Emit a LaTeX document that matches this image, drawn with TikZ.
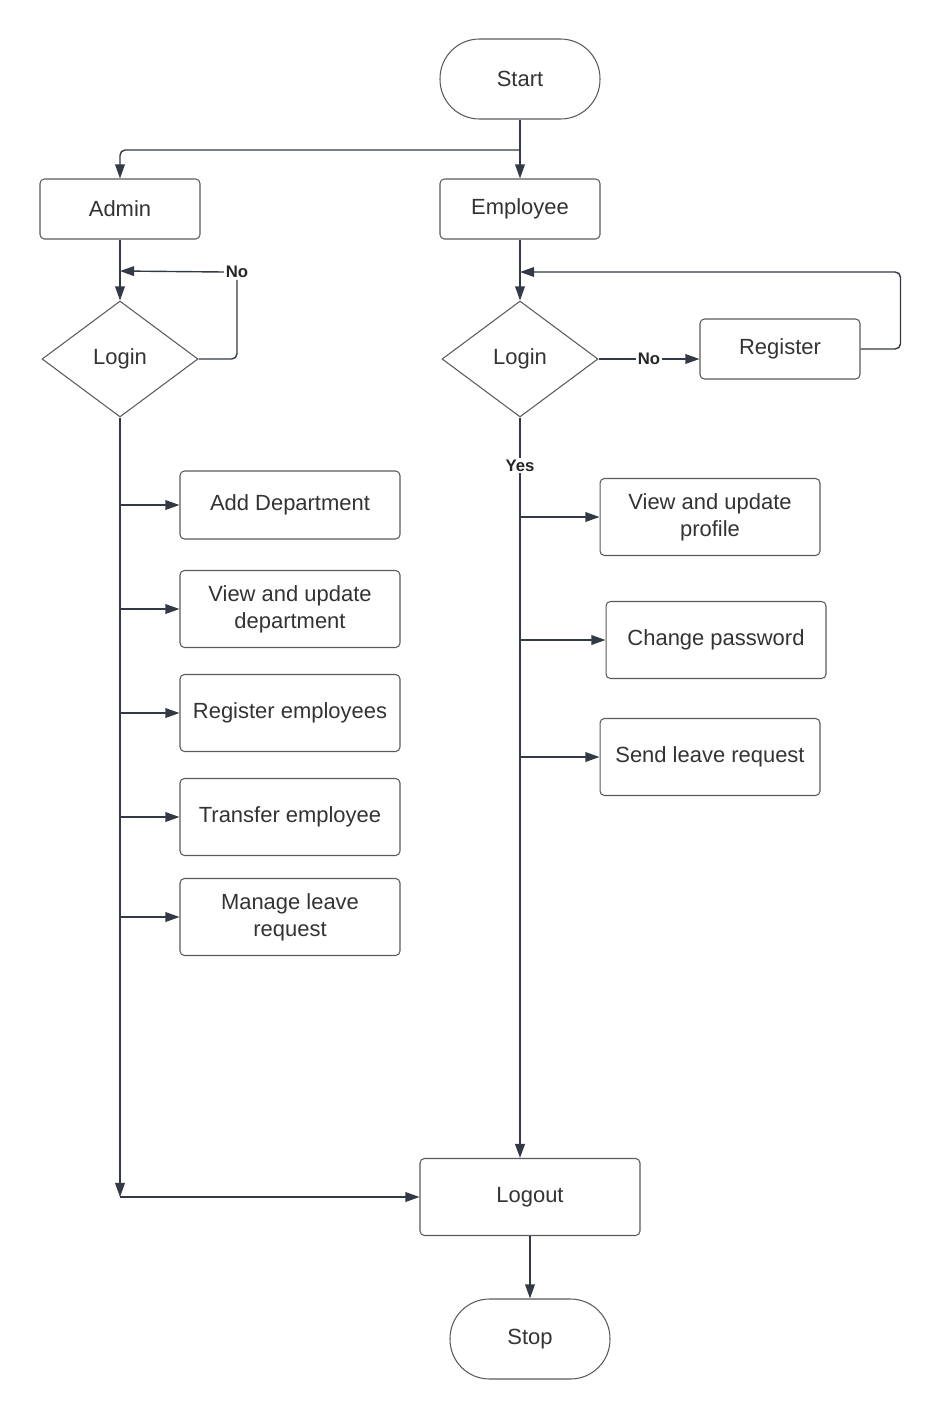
\documentclass[tikz,border=0pt]{standalone}
\usepackage{fontspec}
\setmainfont{Liberation Sans}
\usetikzlibrary{shapes.geometric,arrows.meta}

\definecolor{linie}{HTML}{333A45}
\definecolor{rahmen}{HTML}{5A5A5A}
\definecolor{schrift}{HTML}{333333}

\tikzset{
  kasten/.style={draw=rahmen, line width=0.6pt, rounded corners=2.5pt, minimum width=4.4cm, minimum height=1.54cm,
    align=center, text=schrift, font=\fontsize{12.5}{15.4}\selectfont},
  klein/.style={kasten, minimum width=3.2cm, minimum height=1.2cm},
  terminal/.style={kasten, rounded corners=0.79cm, minimum width=3.2cm, minimum height=1.6cm},
  raute/.style={draw=rahmen, line width=0.6pt, diamond, inner sep=0pt, minimum width=3.12cm, minimum height=2.32cm,
    text=schrift, font=\fontsize{12.5}{15.4}\selectfont},
  pfeil/.style={draw=linie, line width=0.8pt, -{Triangle[length=8pt,width=5.5pt]}},
  linienzug/.style={draw=linie, line width=0.8pt},
  marke/.style={fill=white, inner sep=1pt, text=black!85, font=\fontsize{9.5}{10}\selectfont\bfseries}
}

\begin{document}
\begin{tikzpicture}[x=0.02cm, y=-0.02cm]
    \useasboundingbox (0,0) rectangle (941,1420);

    % zeichne Start und Rollen
    \node[terminal] (start) at (520,79) {Start};
    \node[klein] (admin) at (120,209) {Admin};
    \node[klein] (mitarbeiter) at (520,209) {Employee};

    % zeichne Login-Abfragen
    \node[raute] (loginA) at (120,359) {Login};
    \node[raute] (loginB) at (520,359) {Login};
    \node[klein] (registrieren) at (780,349) {Register};

    % zeichne Admin-Aufgaben
    \node[kasten, minimum height=1.36cm] (abteilung) at (290,505) {Add Department};
    \node[kasten] (abtbearb) at (290,609) {View and update\\department};
    \node[kasten] (registrierung) at (290,713) {Register employees};
    \node[kasten] (versetzung) at (290,817) {Transfer employee};
    \node[kasten] (urlaubA) at (290,917) {Manage leave\\request};

    % zeichne Mitarbeiter-Aufgaben
    \node[kasten] (profil) at (710,517) {View and update\\profile};
    \node[kasten] (passwort) at (716,640) {Change password};
    \node[kasten] (urlaubB) at (710,757) {Send leave request};

    % zeichne Ende
    \node[kasten] (logout) at (530,1197) {Logout};
    \node[terminal] (stop) at (530,1339) {Stop};

    % Hilfspunkte
    \coordinate (verzweigung) at (520,150);
    \coordinate (rueckA) at (120,271);
    \coordinate (rueckB) at (520,272);
    \coordinate (endeA) at (120,1197);
    \node[marke] (neinA) at (237,272) {No};

    % zeichne Verbindungen oben
    \draw[pfeil] (start) -- (mitarbeiter);
    \draw[pfeil, rounded corners=3pt] (verzweigung) -| (admin);
    \draw[pfeil] (admin) -- (loginA);
    \draw[pfeil] (mitarbeiter) -- (loginB);

    % zeichne Schleifen bei No
    \draw[linienzug, rounded corners=3pt] (loginA.east) -| (neinA.south);
    \draw[pfeil] (neinA.west) -- (rueckA);
    \draw[pfeil] (loginB.east) -- (loginB.east -| registrieren.west) node[marke, pos=0.5] {No};
    \draw[pfeil, rounded corners=3pt] (registrieren.east) -- ++(40,0) |- (rueckB);

    % zeichne Hauptlinien
    \draw[pfeil, line width=1.2pt] (loginB.south) -- (loginB.south |- logout.north) node[marke, pos=0.065] {Yes};
    \draw[pfeil] (loginA.south) -- (endeA);
    \draw[pfeil] (endeA) -- (logout);
    \draw[pfeil] (logout) -- (stop);

    % zeichne Abzweigungen
    \foreach \ziel in {abteilung, abtbearb, registrierung, versetzung, urlaubA}
        \draw[pfeil] (loginA.south |- \ziel.west) -- (\ziel.west);
    \foreach \ziel in {profil, passwort, urlaubB}
        \draw[pfeil] (loginB.south |- \ziel.west) -- (\ziel.west);
\end{tikzpicture}
\end{document}
